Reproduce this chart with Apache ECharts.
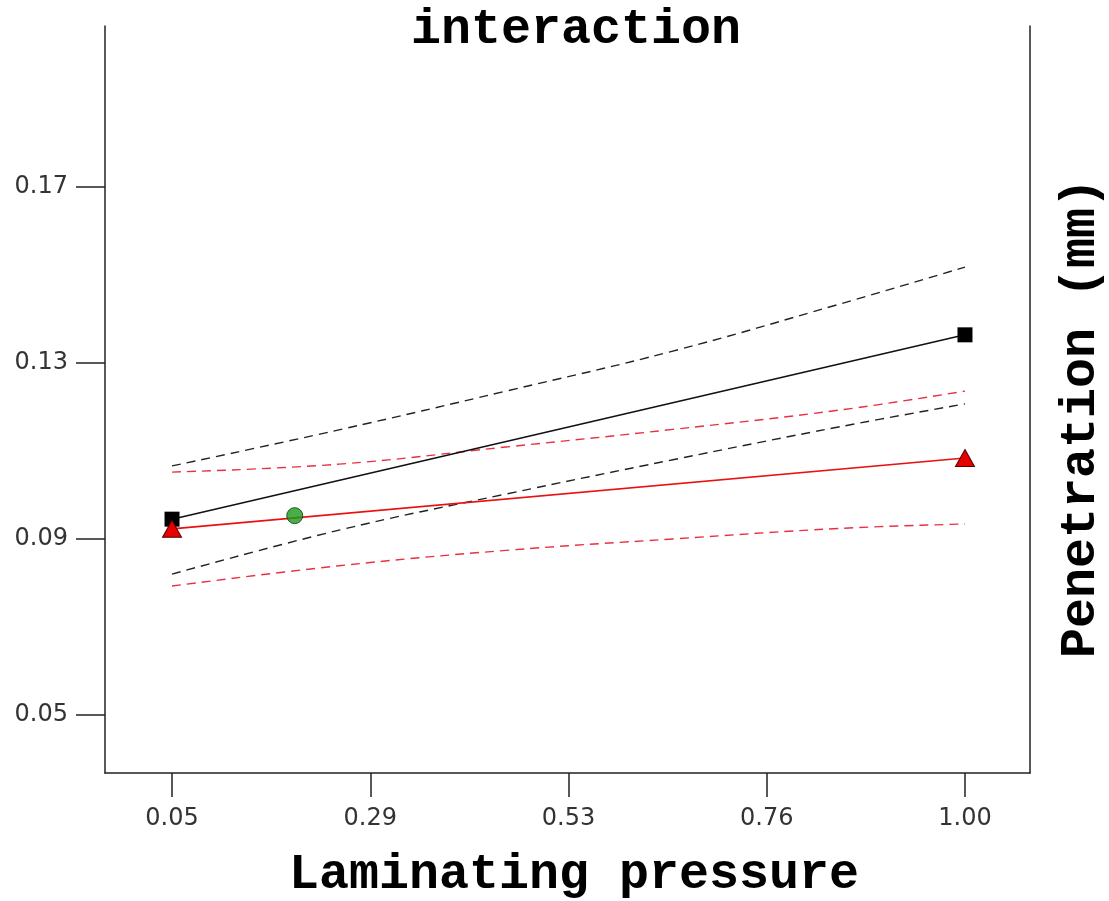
<!DOCTYPE html>
<html>
<head>
<meta charset="utf-8">
<title>interaction</title>
<script src="https://cdn.jsdelivr.net/npm/echarts@6/dist/echarts.min.js"></script>
<style>
  html, body { margin: 0; padding: 0; background: #fff; }
  #chart { width: 1109px; height: 901px; }
</style>
</head>
<body>
<div id="chart"></div>
<script>
// x positions for the band curves and the two fit lines
const xBand = [0.05, 0.25, 0.45, 0.65, 0.85, 1.0];
const xFit = [0.05, 1.0];

// black (one factor level): fit + confidence band
const blackFit = [0.0945, 0.1364];
const blackUpper = [0.1066, 0.1148, 0.1236, 0.1327, 0.1434, 0.1518];
const blackLower = [0.082, 0.092, 0.1002, 0.108, 0.1155, 0.1207];

// red (other factor level): fit + confidence band
const redFit = [0.0923, 0.1084];
const redUpper = [0.1052, 0.107, 0.1109, 0.1149, 0.1193, 0.1236];
const redLower = [0.0793, 0.0839, 0.0874, 0.09, 0.0924, 0.0934];

// design point
const greenPoint = [0.197, 0.0953];

// ticks
const xTickValues = [0.05, 0.2875, 0.525, 0.7625, 1.0];
const xTickLabels = ["0.05", "0.29", "0.53", "0.76", "1.00"];
const yTickValues = [0.05, 0.09, 0.13, 0.17];
const yTickLabels = ["0.05", "0.09", "0.13", "0.17"];

function pairs(xs, ys) {
  return xs.map((x, i) => [x, ys[i]]);
}
function lookup(vals, labels, v) {
  for (let i = 0; i < vals.length; i++) {
    if (Math.abs(vals[i] - v) < 1e-6) return labels[i];
  }
  return "";
}

let myChart = echarts.init(document.getElementById("chart"));
let titleFont = "'Courier New', 'Liberation Mono', monospace";
let tickFont = "'DejaVu Sans', sans-serif";

let dashed = (name, ys, color) => ({
  name: name,
  type: "line",
  data: pairs(xBand, ys),
  smooth: 0.4,
  symbol: "none",
  silent: true,
  lineStyle: { color: color, width: 1.4, type: [9, 6] },
  z: 2
});

let option = {
  animation: false,
  backgroundColor: "#fff",
  grid: { left: 105, right: 79, top: 26, bottom: 128 },
  xAxis: {
    type: "value",
    min: -0.0303,
    max: 1.0779,
    splitLine: { show: false },
    axisLine: { onZero: false, lineStyle: { color: "#222", width: 1.5 } },
    axisTick: {
      customValues: xTickValues,
      length: 24,
      lineStyle: { color: "#222", width: 1.5 }
    },
    axisLabel: {
      customValues: xTickValues,
      margin: 34,
      fontFamily: tickFont,
      fontSize: 24,
      color: "#333",
      formatter: v => lookup(xTickValues, xTickLabels, v)
    }
  },
  yAxis: [
    {
      type: "value",
      min: 0.0368,
      max: 0.2066,
      splitLine: { show: false },
      axisLine: { show: true, onZero: false, lineStyle: { color: "#222", width: 1.5 } },
      axisTick: {
        show: true,
        customValues: yTickValues,
        length: 29,
        lineStyle: { color: "#222", width: 1.5 }
      },
      axisLabel: {
        customValues: yTickValues,
        margin: 37,
        fontFamily: tickFont,
        fontSize: 24,
        color: "#333",
        formatter: v => lookup(yTickValues, yTickLabels, v)
      }
    },
    {
      // right frame line only
      type: "value",
      position: "right",
      min: 0.0368,
      max: 0.2066,
      splitLine: { show: false },
      axisLine: { show: true, onZero: false, lineStyle: { color: "#222", width: 1.5 } },
      axisTick: { show: false },
      axisLabel: { show: false }
    }
  ],
  graphic: [
    {
      type: "text",
      x: 576,
      y: 30,
      style: {
        text: "interaction",
        font: "bold 50px " + titleFont,
        fill: "#000",
        align: "center",
        verticalAlign: "middle"
      }
    },
    {
      type: "text",
      x: 574,
      y: 875,
      style: {
        text: "Laminating pressure",
        font: "bold 50px " + titleFont,
        fill: "#000",
        align: "center",
        verticalAlign: "middle"
      }
    },
    {
      type: "text",
      x: 1081,
      y: 418,
      rotation: Math.PI / 2,
      style: {
        text: "Penetration (mm)",
        font: "bold 50px " + titleFont,
        fill: "#000",
        align: "center",
        verticalAlign: "middle"
      }
    }
  ],
  series: [
    dashed("black upper", blackUpper, "#222"),
    dashed("black lower", blackLower, "#222"),
    dashed("red upper", redUpper, "#e83040"),
    dashed("red lower", redLower, "#e83040"),
    {
      name: "black fit",
      type: "line",
      data: pairs(xFit, blackFit),
      symbol: "rect",
      symbolSize: 15,
      itemStyle: { color: "#000" },
      lineStyle: { color: "#111", width: 1.6 },
      z: 3
    },
    {
      name: "red fit",
      type: "line",
      data: pairs(xFit, redFit),
      symbol: "triangle",
      symbolSize: [19, 17],
      itemStyle: { color: "#e60000", borderColor: "#5a0000", borderWidth: 1 },
      lineStyle: { color: "#e81010", width: 1.6 },
      z: 4
    },
    {
      name: "design point",
      type: "scatter",
      data: [greenPoint],
      symbol: "circle",
      symbolSize: 16,
      itemStyle: { color: "#1a9a1a", borderColor: "#0a3a0a", borderWidth: 1 },
      z: 5
    }
  ]
};

myChart.setOption(option, true);
</script>
</body>
</html>
